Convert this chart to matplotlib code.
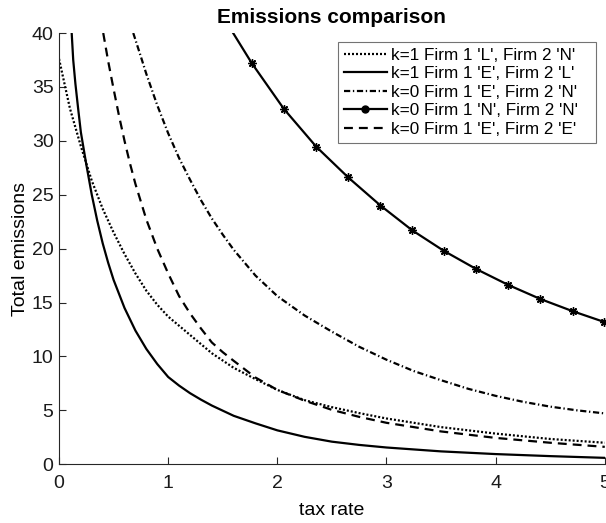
import matplotlib
matplotlib.use("Agg")
import matplotlib.pyplot as plt
from matplotlib.lines import Line2D

plt.rcParams["font.family"] = ["Liberation Sans", "DejaVu Sans"]

# k=1, firm 1 'L', firm 2 'N'
tax_ln = [0, 0.1, 0.2, 0.3, 0.4, 0.5, 0.6, 0.7, 0.8, 0.9, 1.0, 1.2, 1.4, 1.6,
          1.8, 2.0, 2.25, 2.5, 2.75, 3.0, 3.5, 4.0, 4.5, 5.0]
em_ln = [37.6, 33.0, 29.5, 26.3, 23.7, 21.5, 19.5, 17.7, 16.1, 14.8, 13.7, 12.0,
         10.3, 8.95, 7.9, 6.9, 5.95, 5.3, 4.75, 4.25, 3.45, 2.85, 2.35, 2.0]

# k=1, firm 1 'E', firm 2 'L'
tax_el = [0.116, 0.13, 0.15, 0.175, 0.2, 0.25, 0.3, 0.35, 0.4, 0.45, 0.5, 0.6,
          0.7, 0.8, 0.9, 1.0, 1.1, 1.2, 1.3, 1.4, 1.6, 1.8, 2.0, 2.25, 2.5,
          2.75, 3.0, 3.5, 4.0, 4.5, 5.0]
em_el = [40.0, 37.5, 35.3, 33.0, 30.8, 27.8, 25.0, 22.6, 20.5, 18.7, 17.1, 14.5,
         12.4, 10.7, 9.3, 8.1, 7.3, 6.6, 6.0, 5.45, 4.5, 3.8, 3.15, 2.55, 2.1,
         1.8, 1.56, 1.2, 0.95, 0.76, 0.6]

# k=0, firm 1 'E', firm 2 'N'
tax_en = [0.68, 0.75, 0.8, 0.9, 1.0, 1.1, 1.2, 1.3, 1.4, 1.5, 1.6, 1.8, 2.0,
          2.25, 2.5, 2.75, 3.0, 3.25, 3.5, 3.75, 4.0, 4.25, 4.5, 4.75, 5.0]
em_en = [40.0, 37.8, 36.2, 33.3, 30.7, 28.4, 26.4, 24.5, 22.8, 21.3, 19.9, 17.5,
         15.6, 13.8, 12.3, 10.9, 9.7, 8.65, 7.8, 7.0, 6.35, 5.8, 5.35, 5.0, 4.72]

# k=0, firm 1 'N', firm 2 'N'
tax_nn = [1.595, 1.766, 2.06, 2.357, 2.65, 2.945, 3.236, 3.525, 3.824, 4.117,
          4.41, 4.706, 4.995]
em_nn = [40.0, 37.2, 32.96, 29.45, 26.6, 24.0, 21.7, 19.8, 18.1, 16.63, 15.33,
         14.2, 13.2]

# k=0, firm 1 'E', firm 2 'E'
tax_ee = [0.405, 0.45, 0.5, 0.55, 0.6, 0.65, 0.7, 0.8, 0.9, 1.0, 1.1, 1.2, 1.3,
          1.4, 1.5, 1.6, 1.8, 2.0, 2.25, 2.5, 2.75, 3.0, 3.5, 4.0, 4.5, 5.0]
em_ee = [40.0, 37.4, 34.8, 32.3, 30.0, 27.9, 26.0, 22.7, 20.0, 17.7, 15.6, 14.0,
         12.6, 11.3, 10.4, 9.6, 8.05, 6.9, 5.9, 5.05, 4.4, 3.85, 3.05, 2.45,
         2.0, 1.62]

labels = ["k=1 Firm 1 'L', Firm 2 'N'",
          "k=1 Firm 1 'E', Firm 2 'L'",
          "k=0 Firm 1 'E', Firm 2 'N'",
          "k=0 Firm 1 'N', Firm 2 'N'",
          "k=0 Firm 1 'E', Firm 2 'E'"]

lw = 1.6
fig = plt.figure(figsize=(6.06, 5.23), dpi=100)
ax = fig.add_axes([0.0974, 0.1122, 0.9006, 0.8247])

l1, = ax.plot(tax_ln, em_ln, color="k", lw=lw, linestyle=(0, (0.9, 0.9)))
l2, = ax.plot(tax_el, em_el, color="k", lw=lw, linestyle="-")
l3, = ax.plot(tax_en, em_en, color="k", lw=lw, linestyle=(0, (2.8, 1.2, 0.6, 1.2)))
l4, = ax.plot(tax_nn, em_nn, color="k", lw=lw, linestyle="-",
              marker=(8, 2, 0), markersize=6, markevery=slice(1, None))
l5, = ax.plot(tax_ee, em_ee, color="k", lw=lw, linestyle=(0, (4, 2.7)))

# legend shows a dot marker for the starred curve
l4_key = Line2D([], [], color="k", lw=lw, marker="o", markersize=5)

ax.set_xlim(0, 5)
ax.set_ylim(0, 40)
ax.set_xticks(range(0, 6))
ax.set_yticks(range(0, 41, 5))

for side in ("top", "right"):
    ax.spines[side].set_visible(False)
for side in ("left", "bottom"):
    ax.spines[side].set_color("0.15")
    ax.spines[side].set_linewidth(0.8)
ax.tick_params(direction="in", length=5, width=0.8, color="0.15",
               labelsize=14, labelcolor="0.1")
ax.tick_params(axis="x", pad=8)
ax.tick_params(axis="y", pad=4)

ax.set_title("Emissions comparison", fontsize=15, fontweight="bold", pad=7)
ax.set_xlabel("tax rate", fontsize=14, labelpad=7)
ax.set_ylabel("Total emissions", fontsize=14, labelpad=2)

leg = ax.legend([l1, l2, l3, l4_key, l5], labels, loc="upper left",
                bbox_to_anchor=(0.511, 0.736, 0.4725, 0.243), mode="expand",
                fontsize=12.3, handlelength=2.5, handletextpad=0.25,
                borderpad=0.35, labelspacing=0.2, borderaxespad=0,
                fancybox=False, framealpha=1)
leg.get_frame().set_edgecolor("0.45")
leg.get_frame().set_linewidth(0.8)

fig.savefig("out.png", dpi=100)
